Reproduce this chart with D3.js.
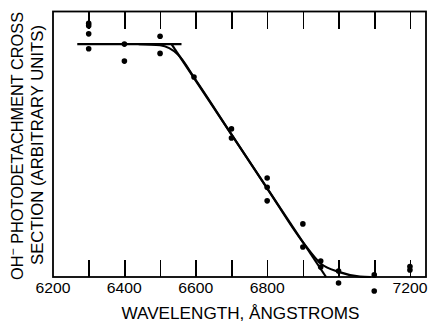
<!DOCTYPE html>
<html>
<head>
<meta charset="utf-8">
<script src="https://cdn.jsdelivr.net/npm/d3@7"></script>
<style>
  body { margin: 0; background: #fff; }
  svg { display: block; }
  text { font-family: "Liberation Sans", Arial, sans-serif; fill: #000; }
</style>
</head>
<body>
<script>
// OH- photodetachment cross section vs wavelength

const w = 428;
const h = 322;

// measured points (wavelength in angstroms, cross section in arbitrary units)
const wavelengths = [6300, 6300, 6300, 6300, 6400, 6400, 6500, 6500, 6595,
  6700, 6700, 6800, 6800, 6800, 6900, 6900, 6950, 6950, 7000, 7000,
  7100, 7100, 7200, 7200];
const crossSections = [1.089, 1.079, 1.044, 0.980, 1.0, 0.927, 1.034, 0.960, 0.859,
  0.636, 0.597, 0.425, 0.385, 0.327, 0.228, 0.129, 0.069, 0.043, 0.026, -0.026,
  0.009, -0.060, 0.045, 0.030];

// fitted lines
const plateauLine = [[6268, 1.0], [6560, 1.0]];
const straightLine = [[6532, 1.0], [6965, 0]];
const smoothCurve = [[6440, 1.0], [6500, 0.995], [6550, 0.955], [6600, 0.845],
  [6700, 0.612], [6800, 0.381], [6900, 0.15], [6950, 0.058], [7000, 0.022],
  [7060, 0.002], [7090, 0]];

// axis ticks
const tickVals = [6300, 6400, 6500, 6600, 6700, 6800, 6900, 7000, 7100, 7200];
const tickLabels = [6200, 6400, 6600, 6800, 7200];

const padLeft = 53, padRight = 426, padTop = 11.5, padBottom = 277;
const tickLen = 17;

const svg = d3.select("body")
  .append("svg")
  .attr("width", w)
  .attr("height", h);

const x_scale = d3.scaleLinear()
  .domain([6200, 7245])
  .range([padLeft, padRight]);

const y_scale = d3.scaleLinear()
  .domain([0, 1.14])
  .range([padBottom, padTop]);

// frame
svg.append("rect")
  .attr("x", padLeft)
  .attr("y", padTop)
  .attr("width", padRight - padLeft)
  .attr("height", padBottom - padTop)
  .attr("fill", "none")
  .attr("stroke", "#000")
  .attr("stroke-width", 1.8);

// inner ticks, bottom and top
const bottom_ticks = d3.axisBottom(x_scale)
  .tickValues(tickVals)
  .tickSizeInner(-tickLen)
  .tickSizeOuter(0)
  .tickFormat(() => "");

const top_ticks = d3.axisTop(x_scale)
  .tickValues(tickVals)
  .tickSizeInner(-tickLen)
  .tickSizeOuter(0)
  .tickFormat(() => "");

[[bottom_ticks, padBottom], [top_ticks, padTop]].forEach(([ax, y0]) => {
  const g = svg.append("g")
    .attr("transform", `translate(0,${y0})`)
    .call(ax);
  g.select(".domain").remove();
  g.selectAll("line")
    .attr("stroke", "#000")
    .attr("stroke-width", 1.6)
    .attr("shape-rendering", "crispEdges");
});

// tick labels
svg.selectAll("text.tick-label")
  .data(tickLabels)
  .enter()
  .append("text")
  .attr("class", "tick-label")
  .attr("x", d => x_scale(d))
  .attr("y", 293)
  .attr("text-anchor", "middle")
  .attr("font-size", 15)
  .attr("textLength", 35)
  .attr("lengthAdjust", "spacingAndGlyphs")
  .text(d => d);

// lines
const line = d3.line()
  .x(d => x_scale(d[0]))
  .y(d => y_scale(d[1]));

svg.append("path")
  .attr("d", line(plateauLine))
  .attr("fill", "none")
  .attr("stroke", "#000")
  .attr("stroke-width", 2.2);

svg.append("path")
  .attr("d", line(straightLine))
  .attr("fill", "none")
  .attr("stroke", "#000")
  .attr("stroke-width", 2.2);

svg.append("path")
  .attr("d", line.curve(d3.curveMonotoneX)(smoothCurve))
  .attr("fill", "none")
  .attr("stroke", "#000")
  .attr("stroke-width", 2.2);

// points
svg.selectAll("circle")
  .data(wavelengths)
  .enter()
  .append("circle")
  .attr("cx", d => x_scale(d))
  .attr("cy", (d, i) => y_scale(crossSections[i]))
  .attr("r", 2.8)
  .attr("fill", "#000");

// axis titles
svg.append("text")
  .attr("x", 240.5)
  .attr("y", 319)
  .attr("text-anchor", "middle")
  .attr("font-size", 17)
  .attr("textLength", 238)
  .attr("lengthAdjust", "spacingAndGlyphs")
  .text("WAVELENGTH,  ÅNGSTROMS");

const yt1 = svg.append("text")
  .attr("transform", "translate(22.5,146) rotate(-90)")
  .attr("text-anchor", "middle")
  .attr("font-size", 16)
  .attr("textLength", 268)
  .attr("lengthAdjust", "spacingAndGlyphs");
yt1.append("tspan").text("OH");
yt1.append("tspan").attr("dy", -6).attr("font-size", 12).text("−");
yt1.append("tspan").attr("dy", 6).text(" PHOTODETACHMENT  CROSS");

svg.append("text")
  .attr("transform", "translate(43,145) rotate(-90)")
  .attr("text-anchor", "middle")
  .attr("font-size", 16)
  .attr("textLength", 240)
  .attr("lengthAdjust", "spacingAndGlyphs")
  .text("SECTION  (ARBITRARY  UNITS)");
</script>
</body>
</html>
